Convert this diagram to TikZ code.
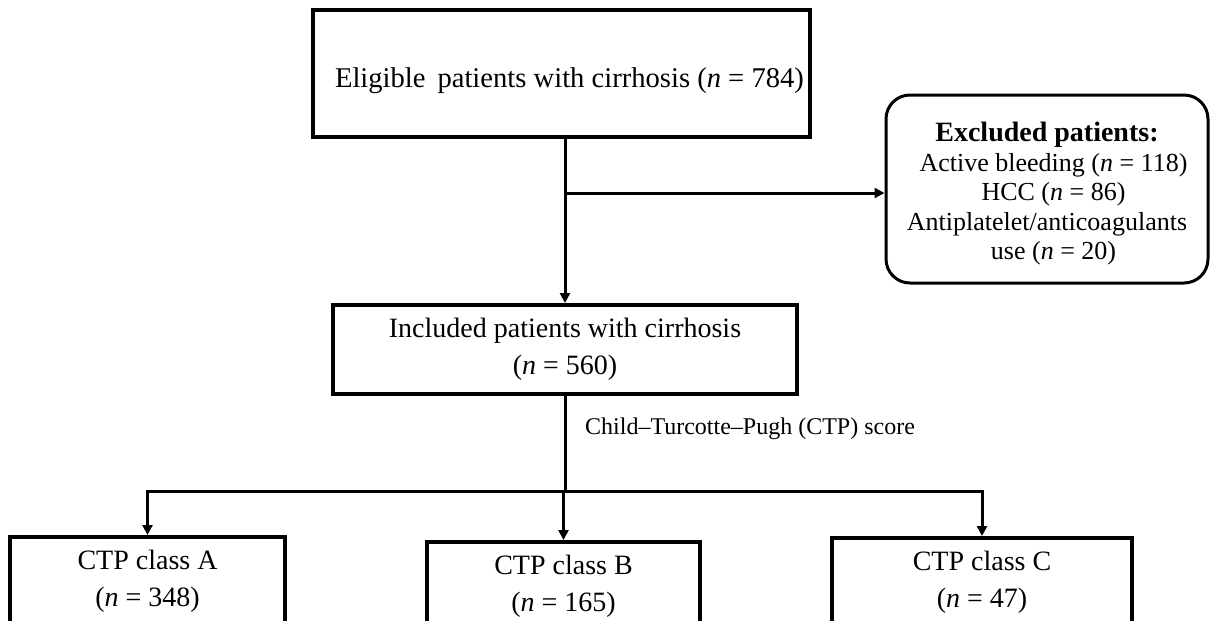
\documentclass[tikz,border=0pt]{standalone}
\usepackage{fontspec}
\setmainfont{Liberation Serif}
\usetikzlibrary{arrows.meta,positioning,calc}

\begin{document}
\begin{tikzpicture}[
    x=0.5pt, y=-0.5pt,
    box/.style={
        % The shape:
        rectangle,
        draw=black,
        line width=2pt,
        inner sep=0pt,
        align=center,
        % The font
        font=\fontsize{14}{18.5}\selectfont},
    excl/.style={
        box,
        rounded corners=12pt,
        line width=1.5pt,
        font=\fontsize{13}{14.75}\selectfont},
    link/.style={line width=1.5pt, line cap=rect},
    arrow/.style={link, -{Triangle[length=5pt,width=5pt]}}]%画面按像素取坐标
  \useasboundingbox (0,0) rectangle (1211,621);
  % the boxes
  \node (eligible) [box, minimum width=248.5pt, minimum height=63.5pt,
      font=\fontsize{14.3}{18.5}\selectfont] at (561.5,73.5)
    {\rule{0pt}{17.5pt}\hspace*{8pt}Eligible\, patients with cirrhosis (\textit{n} = 784)};
  \node (excluded) [excl, minimum width=161pt, minimum height=94pt] at (1047,189)
    {\rule{0pt}{14.5pt}{\fontsize{14}{14.75}\selectfont\bfseries Excluded patients:}\\
     \ \ Active bleeding (\textit{n} = 118)\\
     \ \ HCC (\textit{n} = 86)\\
     Antiplatelet/anticoagulants\\
     \ \ use (\textit{n} = 20)};
  \node (included) [box, minimum width=232pt, minimum height=44.5pt] at (565,349.5)
    {Included patients with cirrhosis\\(\textit{n} = 560)};
  \node (classA) [box, minimum width=137.5pt, minimum height=44.5pt] at (147.5,581.5)
    {CTP class A\\(\textit{n} = 348)};
  \node (classB) [box, minimum width=136.5pt, minimum height=44.5pt] at (563.5,586.5)
    {CTP class B\\(\textit{n} = 165)};
  \node (classC) [box, minimum width=150pt, minimum height=44.5pt] at (982,582.5)
    {CTP class C\\(\textit{n} = 47)};
  % the connectors
  \coordinate (split) at (565,193);
  \coordinate (fork) at (565,491);
  \draw[arrow] (eligible.south -| included.north) -- (included.north);
  \draw[arrow] (split) -- (split -| excluded.west);
  \draw[link] (included.south) -- node (score) [pos=0.34, right=6pt, font=\fontsize{12}{14}\selectfont]
    {Child--Turcotte--Pugh (CTP) score} (fork);
  \draw[link] (fork -| classA.north) -- (fork -| classC.north);
  \draw[arrow] (fork -| classA.north) -- (classA.north);
  \draw[arrow] (fork -| classB.north) -- (classB.north);
  \draw[arrow] (fork -| classC.north) -- (classC.north);
\end{tikzpicture}
\end{document}
